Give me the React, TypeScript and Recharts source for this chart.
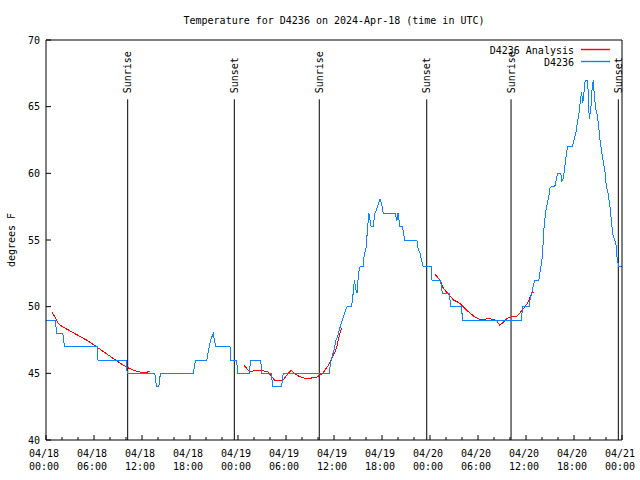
import React from 'react';
import { LineChart, Line, XAxis, YAxis, ReferenceLine, Legend } from 'recharts';

const FONT = '"DejaVu Sans Mono", "Liberation Mono", monospace';
const BLUE = '#0b84ff';
const RED = '#ff0000';

// plot box in pixels (gnuplot style frame)
const LEFT = 46;
const RIGHT = 622;
const TOP = 40;
const BOTTOM = 440;

// hours since 04/18 00:00 UTC
const xTicks = [
  0, 2, 4, 6, 8, 10, 12, 14, 16, 18, 20, 22, 24, 26, 28, 30, 32, 34, 36,
  38, 40, 42, 44, 46, 48, 50, 52, 54, 56, 58, 60, 62, 64, 66, 68, 70, 72,
];
const xDayLabels = [
  '04/18', '04/18', '04/18', '04/18', '04/19', '04/19', '04/19',
  '04/19', '04/20', '04/20', '04/20', '04/20', '04/21',
];
const xTimeLabels = [
  '00:00', '06:00', '12:00', '18:00', '00:00', '06:00', '12:00',
  '18:00', '00:00', '06:00', '12:00', '18:00', '00:00',
];
const yTicks = [40, 45, 50, 55, 60, 65, 70];

const sunriseHours = [10.21, 34.16, 58.13];
const sunsetHours = [23.54, 47.59, 71.54];
const markerTop = 65.55;

const seriesNames = ['D4236 Analysis', 'D4236'];

// D4236 observations [hour, degF]
const observed: [number, number][] = [
  [0, 49], [1.2, 49], [1.3, 48], [2.1, 48], [2.3, 47], [6.4, 47], [6.5, 46],
  [10.0, 46], [10.15, 45], [13.6, 45], [13.8, 44], [14.1, 44], [14.3, 45],
  [18.4, 45], [18.7, 46], [20.1, 46], [20.4, 47], [20.65, 47.6], [20.9, 48],
  [21.05, 47.5], [21.2, 47], [23.0, 47], [23.1, 46], [23.8, 46], [24.0, 45],
  [25.45, 45], [25.55, 46], [26.85, 46], [26.95, 45], [28.15, 45], [28.35, 44],
  [29.45, 44], [29.65, 45], [35.4, 45], [35.5, 45.5], [35.65, 46], [36.0, 46.75],
  [36.25, 47.5], [36.45, 47.75], [36.65, 48.25], [37.05, 49], [37.45, 49.75],
  [37.65, 50], [38.2, 50], [38.35, 50.75], [38.55, 52], [38.75, 51.25],
  [38.9, 51], [39.05, 52.5], [39.25, 53], [39.65, 53], [39.75, 53.75],
  [40.0, 54.4], [40.15, 55.5], [40.35, 57], [40.5, 56.5], [40.65, 56],
  [40.9, 56], [41.1, 57], [41.3, 57.25], [41.5, 57.6], [41.75, 58.05],
  [41.95, 57.75], [42.15, 57], [43.65, 57], [43.85, 56.4], [44.0, 57],
  [44.25, 56], [44.55, 56], [44.85, 55], [46.35, 55], [46.55, 54.25],
  [46.75, 54], [46.95, 53.5], [47.15, 53], [48.15, 53], [48.25, 52],
  [49.3, 52], [49.55, 51], [50.4, 51], [50.6, 50], [51.9, 50], [52.1, 49],
  [59.45, 49], [59.55, 50], [60.4, 50], [60.5, 50.5], [60.7, 51], [61.1, 52],
  [61.6, 52], [61.8, 52.75], [62.05, 53.75], [62.2, 55.5], [62.3, 56.25],
  [62.5, 57.25], [62.85, 58.25], [63.0, 58.9], [63.2, 59], [63.6, 59],
  [63.8, 59.6], [63.95, 60], [64.35, 60], [64.5, 59.4], [64.65, 59.6],
  [64.85, 60.5], [65.05, 61.5], [65.2, 62], [65.8, 62], [66.0, 62.5],
  [66.25, 63.1], [66.45, 63.9], [66.65, 64.6], [66.8, 65.5], [66.95, 66.1],
  [67.1, 65.25], [67.25, 66.1], [67.4, 67], [67.65, 67], [67.8, 66],
  [67.9, 64.1], [68.1, 64.75], [68.2, 66], [68.4, 67], [68.55, 65.75],
  [68.75, 64.75], [68.95, 64.25], [69.15, 63.1], [69.3, 62.25], [69.55, 61.25],
  [69.85, 60.25], [70.05, 59], [70.25, 58.5], [70.5, 57.5], [70.7, 56.25],
  [70.9, 55.25], [71.1, 55], [71.3, 54.5], [71.4, 53.5], [71.6, 53], [72, 53],
];

// D4236 analysis, three night-time pieces [hour, degF]
const analysisNight1: [number, number][] = [
  [0.75, 49.58], [1.1, 49.25], [1.5, 48.75], [1.8, 48.6], [2.35, 48.4],
  [3.4, 48.05], [5.05, 47.5], [6.3, 47.0], [7.6, 46.45], [8.8, 45.95],
  [10.1, 45.45], [10.9, 45.25], [11.7, 45.1], [12.4, 45.05], [13.0, 45.15],
];
const analysisNight2: [number, number][] = [
  [24.75, 45.6], [25.05, 45.4], [25.45, 45.1], [26.05, 45.2], [26.75, 45.25],
  [27.75, 45.1], [28.15, 44.8], [28.55, 44.5], [29.65, 44.5], [30.15, 44.9],
  [30.65, 45.25], [31.05, 45.0], [31.55, 44.8], [32.55, 44.6], [33.85, 44.7],
  [34.65, 45.05], [35.45, 45.75], [36.05, 46.5], [36.35, 47], [36.75, 48.05],
  [36.95, 48.4],
];
const analysisNight3: [number, number][] = [
  [48.65, 52.4], [49.25, 52.0], [49.65, 51.4], [50.35, 50.9], [50.95, 50.5],
  [51.75, 50.25], [52.65, 49.7], [53.65, 49.2], [54.45, 49.0], [55.25, 49.1],
  [56.0, 49.05], [56.4, 48.9], [56.7, 48.6], [57.0, 48.75], [57.6, 49.1],
  [58.2, 49.25], [58.8, 49.25], [59.2, 49.5], [59.9, 50.0], [60.3, 50.4],
  [60.7, 51.0], [61.0, 51.1],
];

const observedData = observed.map(([h, t]) => ({ h, t }));
const analysisData = [analysisNight1, analysisNight2, analysisNight3].flatMap(
  (piece, i, all) => {
    const pts: { h: number; t: number | null }[] = piece.map(([h, t]) => ({ h, t }));
    if (i < all.length - 1) pts.push({ h: piece[piece.length - 1][0] + 0.1, t: null });
    return pts;
  }
);

const txt = { fontFamily: FONT, fontSize: 10, fill: '#000' };

const BottomTick = ({ x, payload }: any) => {
  const v = payload.value;
  const major = v % 6 === 0;
  const i = v / 6;
  return (
    <g>
      <line x1={x} x2={x} y1={BOTTOM} y2={BOTTOM - (major ? 5 : 3)} stroke="#000" />
      {major && (
        <>
          <text x={x - 2} y={457} textAnchor="middle" {...txt}>{xDayLabels[i]}</text>
          <text x={x - 2} y={470} textAnchor="middle" {...txt}>{xTimeLabels[i]}</text>
        </>
      )}
    </g>
  );
};

const TopTick = ({ x, payload }: any) => {
  const major = payload.value % 6 === 0;
  return <line x1={x} x2={x} y1={TOP} y2={TOP + (major ? 5 : 3)} stroke="#000" />;
};

const LeftTick = ({ y, payload }: any) => (
  <g>
    <line x1={LEFT} x2={LEFT + 5} y1={y} y2={y} stroke="#000" />
    <text x={40} y={y} dy="0.36em" textAnchor="end" {...txt}>{payload.value}</text>
  </g>
);

const RightTick = ({ y }: any) => (
  <line x1={RIGHT} x2={RIGHT - 5} y1={y} y2={y} stroke="#000" />
);

const YTitle = () => (
  <text x={11} y={240} transform="rotate(-90 11 240)" textAnchor="middle" dominantBaseline="central" {...txt}>
    degrees F
  </text>
);

const SunLabel = ({ viewBox, text }: any) => {
  const x = viewBox.x;
  const y = viewBox.y - 6;
  return (
    <text x={x} y={y} transform={`rotate(-90 ${x} ${y})`} textAnchor="start" dominantBaseline="central" {...txt}>
      {text}
    </text>
  );
};

const legendColors = [RED, BLUE];

const LegendBox = () => (
  <svg width={140} height={30} style={{ display: 'block', overflow: 'visible' }}>
    {seriesNames.map((name, i) => (
      <g key={name}>
        <text x={94} y={11.5 + i * 12.5} textAnchor="end" {...txt}>{name}</text>
        <line
          x1={101}
          x2={130}
          y1={7.5 + i * 12}
          y2={7.5 + i * 12}
          stroke={legendColors[i]}
          strokeWidth={1.4}
        />
      </g>
    ))}
  </svg>
);

export default function App() {
  return (
    <div style={{ position: 'absolute', left: 0, top: 0, width: 640, height: 480, background: '#fff' }}>
      <svg width={640} height={30} style={{ position: 'absolute', left: 0, top: 0 }}>
        <text x={334} y={24} textAnchor="middle" {...txt}>
          Temperature for D4236 on 2024-Apr-18 (time in UTC)
        </text>
      </svg>
      <LineChart width={640} height={480} margin={{ top: 0, right: 0, bottom: 0, left: 0 }}>
        <XAxis
          dataKey="h"
          type="number"
          domain={[0, 72]}
          ticks={xTicks}
          interval={0}
          height={40}
          tickSize={0}
          tickMargin={0}
          tickLine={false}
          axisLine={{ stroke: '#000' }}
          tick={<BottomTick />}
        />
        <XAxis
          xAxisId="top"
          orientation="top"
          type="number"
          domain={[0, 72]}
          ticks={xTicks}
          interval={0}
          height={40}
          tickSize={0}
          tickMargin={0}
          tickLine={false}
          axisLine={{ stroke: '#000' }}
          tick={<TopTick />}
        />
        <YAxis
          type="number"
          domain={[40, 70]}
          ticks={yTicks}
          interval={0}
          width={LEFT}
          tickSize={0}
          tickMargin={0}
          tickLine={false}
          axisLine={{ stroke: '#000' }}
          tick={<LeftTick />}
          label={<YTitle />}
        />
        <YAxis
          yAxisId="right"
          orientation="right"
          type="number"
          domain={[40, 70]}
          ticks={yTicks}
          interval={0}
          width={640 - RIGHT}
          tickSize={0}
          tickMargin={0}
          tickLine={false}
          axisLine={{ stroke: '#000' }}
          tick={<RightTick />}
        />
        {sunriseHours.map((h) => (
          <ReferenceLine
            key={`sr${h}`}
            segment={[{ x: h, y: 40 }, { x: h, y: markerTop }]}
            stroke="#000"
            label={<SunLabel text="Sunrise" />}
          />
        ))}
        {sunsetHours.map((h) => (
          <ReferenceLine
            key={`ss${h}`}
            segment={[{ x: h, y: 40 }, { x: h, y: markerTop }]}
            stroke="#000"
            label={<SunLabel text="Sunset" />}
          />
        ))}
        <Line
          data={analysisData}
          dataKey="t"
          name={seriesNames[0]}
          type="linear"
          stroke={RED}
          strokeWidth={1}
          dot={false}
          connectNulls={false}
          isAnimationActive={false}
          shapeRendering="crispEdges"
        />
        <Line
          data={observedData}
          dataKey="t"
          name={seriesNames[1]}
          type="linear"
          stroke={BLUE}
          strokeWidth={1}
          dot={false}
          isAnimationActive={false}
          shapeRendering="crispEdges"
        />
        <Legend
          layout="vertical"
          align="center"
          verticalAlign="middle"
          content={<LegendBox />}
          wrapperStyle={{ left: 480, top: 42, width: 140, height: 30 }}
        />
      </LineChart>
    </div>
  );
}
